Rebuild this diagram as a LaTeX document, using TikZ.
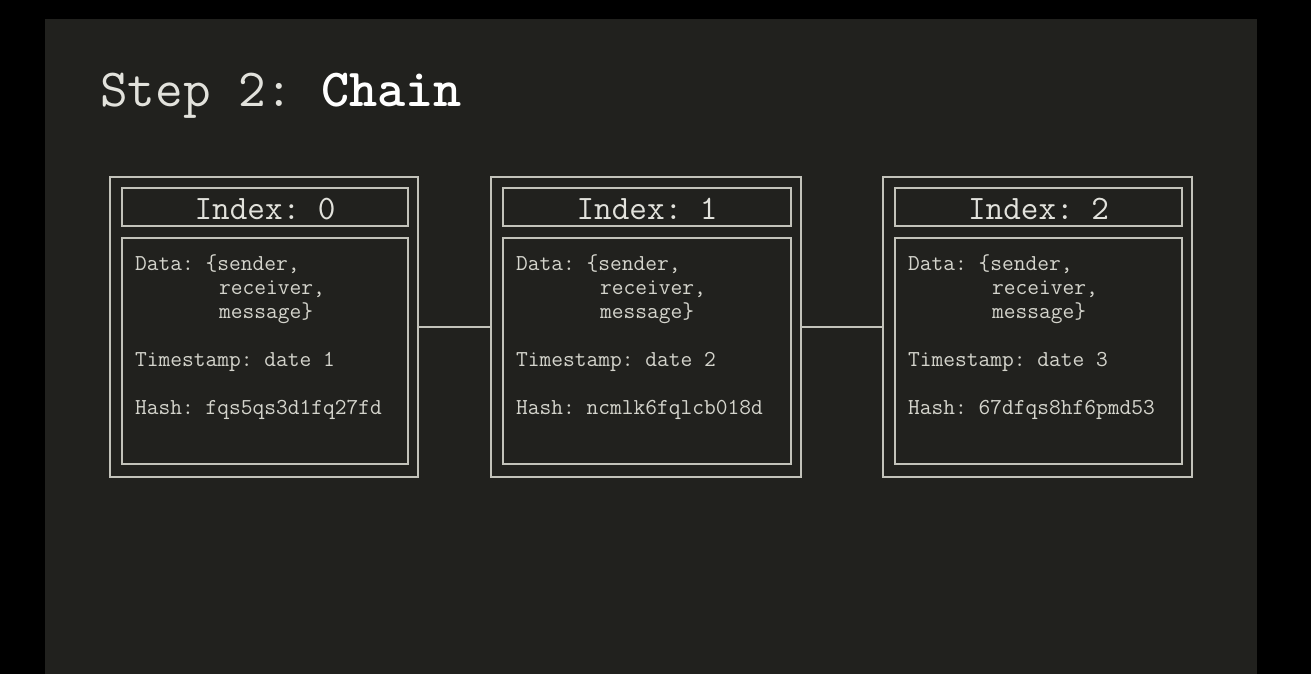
\documentclass[tikz,border=0pt]{standalone}
\usepackage{fontspec}
\definecolor{slidebg}{HTML}{21211E}
\definecolor{frame}{HTML}{C2C2BA}
\definecolor{ink}{HTML}{D4D4CC}
\definecolor{titleink}{HTML}{E2E2DC}
\begin{document}
\frenchspacing
\begin{tikzpicture}[x=1pt,y=-1pt,
  boxline/.style={draw=frame, line width=1.6pt},
  blockbox/.style={boxline, rectangle, inner sep=0pt},
  bodytext/.style={text=ink, inner sep=0pt, anchor=base west,
    font=\ttfamily\frenchspacing\fontsize{22.8}{24}\selectfont},
  indextext/.style={text=titleink, inner sep=0pt, anchor=base,
    font=\ttfamily\frenchspacing\fontsize{34.2}{36}\selectfont},
  titletext/.style={text=titleink, inner sep=0pt, anchor=base west,
    font=\ttfamily\frenchspacing\fontsize{53.6}{56}\selectfont}]
  % page and slide area
  \fill[black] (0,0) rectangle (1311,674);
  \useasboundingbox (0,0) rectangle (1311,674);
  \fill[slidebg] (45,19) rectangle (1257,674);

  % title
  \node[titletext] (title) at (100,107) {Step 2: {\bfseries\color{white}Chain}};

  % the three blocks: index/left/right/date/hash
  \foreach \i/\L/\R/\date/\hash in
    {0/110/418/1/fqs5qs3d1fq27fd,
     1/491/801/2/ncmlk6fqlcb018d,
     2/883/1192/3/67dfqs8hf6pmd53}{
    \node[blockbox, minimum width={\R-\L}, minimum height=300]
      (b\i) at ({(\L+\R)/2},327) {};
    \node[blockbox, minimum width={\R-\L-22}, minimum height=38]
      (h\i) at ({(\L+\R+2)/2},207) {};
    \node[blockbox, minimum width={\R-\L-22}, minimum height=226]
      (p\i) at ({(\L+\R+2)/2},351) {};
    \node[indextext] (n\i) at ({(\L+\R+2)/2},219) {Index: \i};
    \node[bodytext] (da\i) at ({\L+25},270) {Data: \{sender,};
    \node[bodytext] (db\i) at ({\L+25+84},294) {receiver,};
    \node[bodytext] (dc\i) at ({\L+25+84},318) {message\}};
    \node[bodytext] (ts\i) at ({\L+25},366) {Timestamp: date \date};
    \node[bodytext] (hs\i) at ({\L+25},414) {Hash: \hash};
  }

  % links between consecutive blocks
  \draw[boxline] (b0.east) -- (b1.west);
  \draw[boxline] (b1.east) -- (b2.west);
\end{tikzpicture}
\end{document}
